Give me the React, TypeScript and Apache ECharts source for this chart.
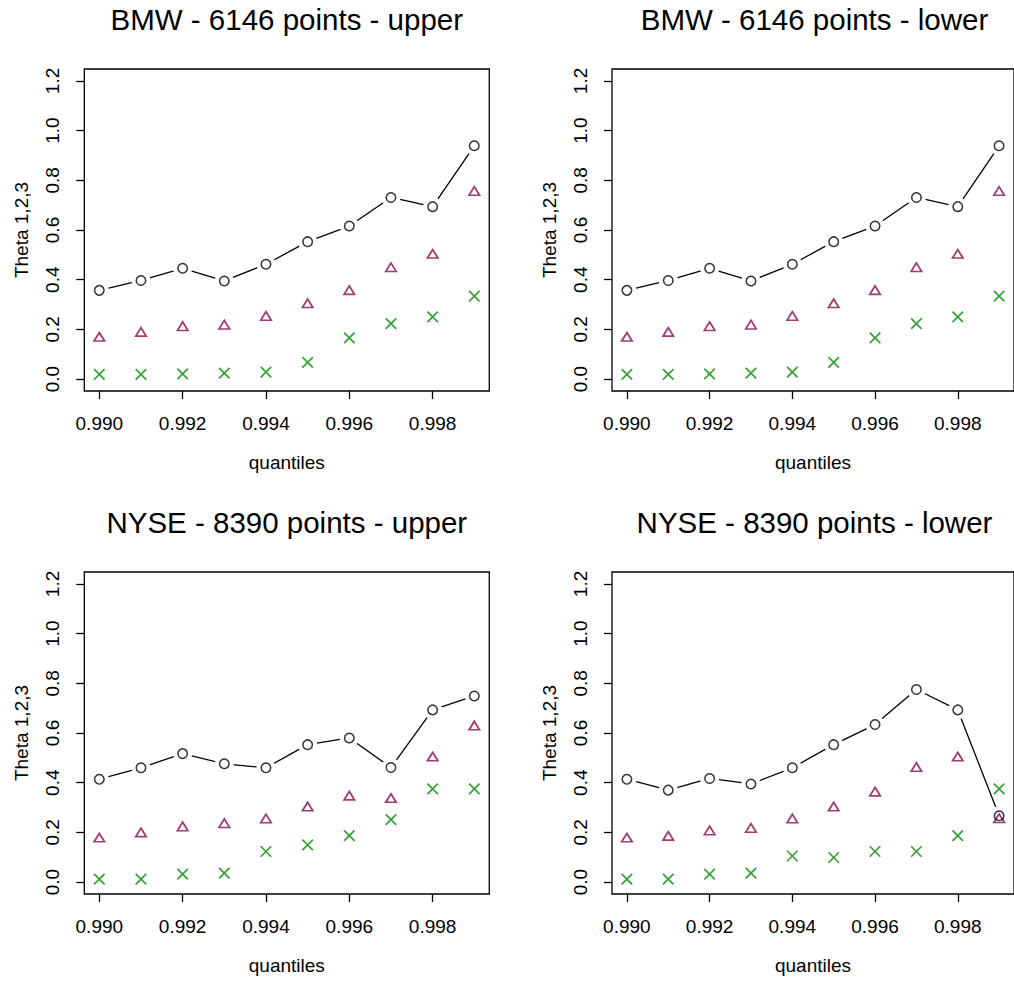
import React, { useEffect, useRef } from "react";
import * as echarts from "echarts";

// ---- data ----
const quantiles = [0.99, 0.991, 0.992, 0.993, 0.994, 0.995, 0.996, 0.997, 0.998, 0.999];
const xTicks = [0.99, 0.992, 0.994, 0.996, 0.998];
const yTicks = [0, 0.2, 0.4, 0.6, 0.8, 1.0, 1.2];

const bmwUpperTheta1 = [0.357, 0.397, 0.446, 0.395, 0.462, 0.553, 0.616, 0.731, 0.694, 0.939];
const bmwUpperTheta2 = [0.17, 0.19, 0.213, 0.219, 0.254, 0.305, 0.358, 0.45, 0.504, 0.757];
const bmwUpperTheta3 = [0.019, 0.019, 0.021, 0.024, 0.028, 0.067, 0.166, 0.223, 0.25, 0.334];

const bmwLowerTheta1 = [0.357, 0.397, 0.446, 0.395, 0.462, 0.553, 0.616, 0.731, 0.694, 0.939];
const bmwLowerTheta2 = [0.17, 0.19, 0.213, 0.219, 0.254, 0.305, 0.358, 0.45, 0.504, 0.757];
const bmwLowerTheta3 = [0.019, 0.019, 0.021, 0.024, 0.028, 0.067, 0.166, 0.223, 0.25, 0.334];

const nyseUpperTheta1 = [0.414, 0.46, 0.517, 0.476, 0.46, 0.553, 0.58, 0.461, 0.693, 0.749];
const nyseUpperTheta2 = [0.179, 0.2, 0.224, 0.237, 0.256, 0.304, 0.348, 0.338, 0.505, 0.63];
const nyseUpperTheta3 = [0.012, 0.012, 0.032, 0.036, 0.123, 0.15, 0.187, 0.251, 0.375, 0.375];

const nyseLowerTheta1 = [0.414, 0.37, 0.417, 0.395, 0.46, 0.553, 0.634, 0.775, 0.693, 0.267];
const nyseLowerTheta2 = [0.179, 0.186, 0.208, 0.218, 0.256, 0.304, 0.364, 0.463, 0.505, 0.257];
const nyseLowerTheta3 = [0.012, 0.012, 0.032, 0.036, 0.105, 0.099, 0.123, 0.123, 0.187, 0.375];

const titles = [
  "BMW - 6146 points - upper",
  "BMW - 6146 points - lower",
  "NYSE - 8390 points - upper",
  "NYSE - 8390 points - lower",
];
const xLabel = "quantiles";
const yLabel = "Theta 1,2,3";

const FONT = '"Liberation Sans", Arial, Helvetica, sans-serif';
const GREEN = "#008A00";
const PURPLE = "#8A0A4E";

export default function App() {
  const ref = useRef<HTMLDivElement>(null);

  useEffect(() => {
    document.body.style.margin = "0";
    if (!ref.current) return;
    const chart = echarts.init(ref.current, undefined, { renderer: "svg" });

    const panels = [
      { left: 84.3, top: 69, t1: bmwUpperTheta1, t2: bmwUpperTheta2, t3: bmwUpperTheta3 },
      { left: 612, top: 69, t1: bmwLowerTheta1, t2: bmwLowerTheta2, t3: bmwLowerTheta3 },
      { left: 84.3, top: 572, t1: nyseUpperTheta1, t2: nyseUpperTheta2, t3: nyseUpperTheta3 },
      { left: 612, top: 572, t1: nyseLowerTheta1, t2: nyseLowerTheta2, t3: nyseLowerTheta3 },
    ];
    const W = 405;
    const H = 322;

    const xSpan = quantiles[quantiles.length - 1] - quantiles[0];
    const xMin = quantiles[0] - 0.04 * xSpan;
    const xMax = quantiles[quantiles.length - 1] + 0.04 * xSpan;
    const ySpan = yTicks[yTicks.length - 1] - yTicks[0];
    const yMin = yTicks[0] - 0.04 * ySpan;
    const yMax = yTicks[yTicks.length - 1] + 0.04 * ySpan;

    const zip = (ys: number[]) => quantiles.map((q, i) => [q, ys[i]]);

    const grid: any[] = [];
    const xAxis: any[] = [];
    const yAxis: any[] = [];
    const series: any[] = [];
    const graphic: any[] = [];

    panels.forEach((p, i) => {
      grid.push({
        left: p.left,
        top: p.top,
        width: W,
        height: H,
        show: true,
        borderColor: "#000",
        borderWidth: 1.3,
        backgroundColor: "transparent",
        containLabel: false,
      });
      xAxis.push({
        type: "value",
        gridIndex: i,
        min: xMin,
        max: xMax,
        axisLine: { show: false, onZero: false },
        splitLine: { show: false },
        axisTick: {
          show: true,
          length: 8,
          lineStyle: { color: "#000", width: 1.3 },
          customValues: xTicks,
        },
        axisLabel: {
          customValues: xTicks,
          formatter: (v: number) => v.toFixed(3),
          fontSize: 19,
          color: "#000",
          margin: 23,
          fontFamily: FONT,
        },
        name: xLabel,
        nameLocation: "middle",
        nameGap: 62,
        nameTextStyle: { fontSize: 19, color: "#000", fontFamily: FONT },
      });
      yAxis.push({
        type: "value",
        gridIndex: i,
        min: yMin,
        max: yMax,
        axisLine: { show: false, onZero: false },
        splitLine: { show: false },
        axisTick: {
          show: true,
          length: 8,
          lineStyle: { color: "#000", width: 1.3 },
          customValues: yTicks,
        },
        axisLabel: {
          customValues: yTicks,
          formatter: (v: number) => v.toFixed(1),
          rotate: 90,
          fontSize: 19,
          color: "#000",
          margin: 22,
          fontFamily: FONT,
        },
        name: yLabel,
        nameLocation: "middle",
        nameRotate: 90,
        nameGap: 53,
        nameTextStyle: { fontSize: 19, color: "#000", fontFamily: FONT },
      });

      // connecting line with white gaps around the circles (R type = "b")
      series.push({
        type: "line",
        xAxisIndex: i,
        yAxisIndex: i,
        data: zip(p.t1),
        symbol: "circle",
        symbolSize: 19,
        itemStyle: { color: "#fff", borderWidth: 0 },
        lineStyle: { color: "#000", width: 1.3 },
        z: 2,
        silent: true,
      });
      series.push({
        type: "scatter",
        xAxisIndex: i,
        yAxisIndex: i,
        data: zip(p.t2),
        symbol: "triangle",
        symbolSize: [10.5, 8.5],
        itemStyle: { color: "rgba(0,0,0,0)", borderColor: PURPLE, borderWidth: 1.7 },
        z: 3,
        silent: true,
      });
      series.push({
        type: "scatter",
        xAxisIndex: i,
        yAxisIndex: i,
        data: zip(p.t3),
        symbol: "path://M0,0L10,10M0,10L10,0",
        symbolSize: 10.5,
        itemStyle: { color: "rgba(0,0,0,0)", borderColor: GREEN, borderWidth: 1.7 },
        z: 3,
        silent: true,
      });
      series.push({
        type: "scatter",
        xAxisIndex: i,
        yAxisIndex: i,
        data: zip(p.t1),
        symbol: "circle",
        symbolSize: 9.5,
        itemStyle: { color: "rgba(0,0,0,0)", borderColor: "#000", borderWidth: 1.5 },
        z: 4,
        silent: true,
      });

      graphic.push({
        type: "text",
        x: p.left + W / 2,
        y: p.top - 49.5,
        style: {
          text: titles[i],
          fill: "#000",
          font: `29.5px ${FONT}`,
          textAlign: "center",
          textVerticalAlign: "middle",
        },
      });
    });

    chart.setOption({
      animation: false,
      backgroundColor: "#fff",
      grid,
      xAxis,
      yAxis,
      series,
      graphic,
    });

    return () => chart.dispose();
  }, []);

  return <div ref={ref} style={{ width: 1014, height: 981 }} />;
}
